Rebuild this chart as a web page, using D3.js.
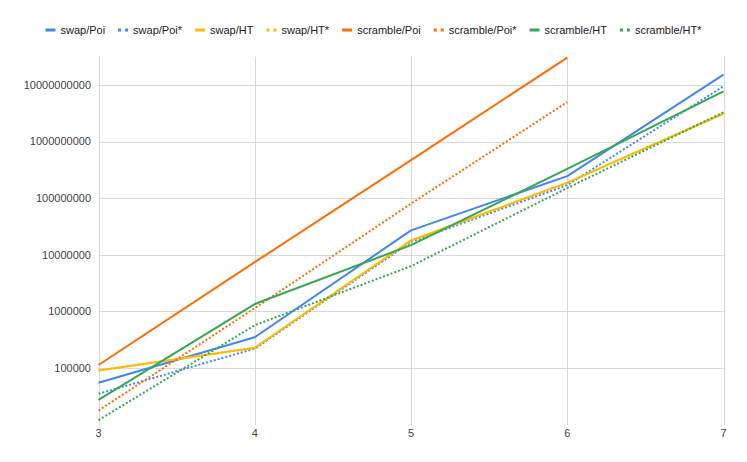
<!DOCTYPE html>
<html>
<head>
<meta charset="utf-8">
<script src="https://cdn.jsdelivr.net/npm/d3@7"></script>
<style>
  html, body { margin: 0; padding: 0; background: #fff; }
  svg { display: block; font-family: "Liberation Sans", Arial, sans-serif; }
</style>
</head>
<body>
<svg id="chart" width="747" height="462"></svg>
<script>
// ---- data ----
const xValues = [3, 4, 5, 6, 7];
const seriesNames = ["swap/Poi", "swap/Poi*", "swap/HT", "swap/HT*", "scramble/Poi", "scramble/Poi*", "scramble/HT", "scramble/HT*"];
const swapPoi      = [55000, 350000, 27000000, 246000000, 15300000000];
const swapPoiStar  = [35000, 220000, 16900000, 170000000, 9500000000];
const swapHT       = [90000, 228000, 18000000, 188000000, 3100000000];
const swapHTStar   = [90000, 226000, 17500000, 185000000, 3200000000];
const scramblePoi  = [113000, 7400000, 470000000, 30500000000, null];
const scramblePoiStar = [17700, 1140000, 80000000, 5000000000, null];
const scrambleHT   = [27300, 1350000, 14800000, 330000000, 7700000000];
const scrambleHTStar = [12000, 570000, 6300000, 151000000, 3300000000];
const yTickValues = [100000, 1000000, 10000000, 100000000, 1000000000, 10000000000];
const xTickValues = [3, 4, 5, 6, 7];

const seriesValues = [swapPoi, swapPoiStar, swapHT, swapHTStar, scramblePoi, scramblePoiStar, scrambleHT, scrambleHTStar];
const colors = ["#4285F4", "#4285F4", "#FBBC04", "#FBBC04", "#FF6D01", "#FF6D01", "#34A853", "#34A853"];
const dotted = [false, true, false, true, false, true, false, true];

// ---- layout ----
const svg = d3.select("#chart");
const plotLeft = 98.5, plotRight = 723.5, plotTop = 57, plotBottom = 425;

const x = d3.scaleLinear().domain([3, 7]).range([plotLeft, plotRight]);
const y = d3.scaleLog().domain([1e4, 1e10]).range([424.6, 85]);

// grid
const grid = svg.append("g");
grid.selectAll("line.h").data(yTickValues).join("line")
  .attr("x1", plotLeft).attr("x2", plotRight)
  .attr("y1", d => Math.round(y(d)) + 0.5).attr("y2", d => Math.round(y(d)) + 0.5)
  .attr("stroke", "#d9d9d9").attr("stroke-width", 1);
grid.selectAll("line.v").data(xTickValues).join("line")
  .attr("x1", d => Math.round(x(d)) + 0.5).attr("x2", d => Math.round(x(d)) + 0.5)
  .attr("y1", plotTop).attr("y2", plotBottom)
  .attr("stroke", "#d9d9d9").attr("stroke-width", 1);

// y labels
svg.append("g").selectAll("text").data(yTickValues).join("text")
  .attr("x", 91).attr("y", d => y(d)).attr("dy", "0.35em")
  .attr("text-anchor", "end").attr("font-size", 11).attr("fill", "#444")
  .text(d => String(d));

// x labels
svg.append("g").selectAll("text").data(xTickValues).join("text")
  .attr("x", d => x(d)).attr("y", 433).attr("dy", "0.35em")
  .attr("text-anchor", "middle").attr("font-size", 11).attr("fill", "#444")
  .text(d => d);

// lines
const line = d3.line()
  .defined(d => d[1] != null)
  .x(d => x(d[0])).y(d => y(d[1]));

const linesG = svg.append("g");
seriesValues.forEach((vals, i) => {
  const pts = xValues.map((xv, j) => [xv, vals[j]]);
  linesG.append("path")
    .attr("d", line(pts))
    .attr("fill", "none")
    .attr("stroke", colors[i])
    .attr("stroke-width", 2)
    .attr("stroke-linejoin", "round")
    .attr("stroke-dasharray", dotted[i] ? "2,2" : null);
});

// legend
const legend = svg.append("g");
const ly = 30;
const items = [];
seriesNames.forEach((name, i) => {
  const g = legend.append("g");
  if (dotted[i]) {
    g.append("rect").attr("x", 0).attr("y", ly - 1.5).attr("width", 3).attr("height", 3).attr("fill", colors[i]);
    g.append("rect").attr("x", 7).attr("y", ly - 1.5).attr("width", 3).attr("height", 3).attr("fill", colors[i]);
  } else {
    g.append("rect").attr("x", 0).attr("y", ly - 1.5).attr("width", 10).attr("height", 3).attr("fill", colors[i]);
  }
  const t = g.append("text").attr("x", 15).attr("y", ly).attr("dy", "0.35em")
    .attr("font-size", 11).attr("fill", "#222").text(name);
  const w = 15 + t.node().getComputedTextLength();
  items.push({ g, w });
});
const gap = 13;
const total = d3.sum(items, d => d.w) + gap * (items.length - 1);
let pos = 373.5 - total / 2;
items.forEach(it => {
  it.g.attr("transform", `translate(${pos},0)`);
  pos += it.w + gap;
});
</script>
</body>
</html>
